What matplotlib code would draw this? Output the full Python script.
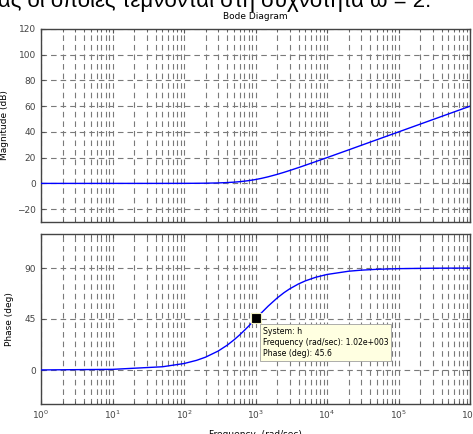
#!/usr/bin/env python3
# Bode diagram of h(s), MATLAB-style figure with a data tip on the phase plot
import numpy as np
import matplotlib
matplotlib.use('Agg')
import matplotlib.pyplot as plt
from matplotlib.ticker import LogLocator, NullFormatter

#--------------------------------------------------
# values
freq  = [1, 10, 50, 100, 150, 200, 300, 400, 500, 600, 700, 800, 900, 1000, 1200, 1500,
         2000, 2500, 3000, 4000, 5000, 7000, 1e4, 2e4, 3e4, 5e4, 1e5, 3e5, 1e6]
magDb = [0.0, 0.0, 0.01, 0.04, 0.10, 0.17, 0.37, 0.65, 0.97, 1.34, 1.73, 2.15, 2.58, 3.01,
         3.87, 5.12, 6.99, 8.60, 10.0, 12.3, 14.15, 17.0, 20.04, 26.02, 29.55, 33.98, 40.0,
         49.54, 60.0]
phDeg = [0.06, 0.57, 2.86, 5.71, 8.53, 11.31, 16.7, 21.8, 26.57, 30.96, 34.99, 38.66, 41.99,
         45.0, 50.19, 56.31, 63.43, 68.2, 71.57, 75.96, 78.69, 81.87, 84.29, 87.14, 88.09,
         88.85, 89.43, 89.81, 89.94]

tipFreq  = 1.02e3
tipPhase = 45.6
tipText  = 'System: h\nFrequency (rad/sec): 1.02e+003\nPhase (deg): 45.6'

magTicks = [-20, 0, 20, 40, 60, 80, 100, 120]
phTicks  = [0, 45, 90]

headText = 'ας οι οποίες τέμνονται στη συχνότητα ω = 2.'

#--------------------------------------------------
W, H = 473, 434
fig = plt.figure(figsize=(W/100, H/100), dpi=100)

gridGray  = '#7a7a7a'
axGray    = '#555555'
lineBlue  = '#0000ff'
dashStyle = (0, (5.0, 3.6))

def fpos(x0, y0, x1, y1):
    # pixel box -> figure fraction
    return [x0/W, 1-y1/H, (x1-x0)/W, (y1-y0)/H]

def style(ax):
    ax.set_xscale('log')
    ax.set_xlim(1, 1e6)
    ax.xaxis.set_major_locator(LogLocator(base=10, numticks=10))
    ax.xaxis.set_minor_locator(LogLocator(base=10, subs=np.arange(2, 10), numticks=20))
    ax.xaxis.set_minor_formatter(NullFormatter())
    ax.grid(True, which='major', axis='both', color=gridGray, linestyle=dashStyle, linewidth=0.8)
    ax.grid(True, which='minor', axis='x', color=gridGray, linestyle=dashStyle, linewidth=0.8)
    ax.tick_params(which='both', direction='in', top=True, right=True, colors=axGray,
                   labelsize=6.5, labelcolor='#444444')
    ax.tick_params(which='major', length=3)
    ax.tick_params(which='minor', length=2)
    for s in ax.spines.values():
        s.set_color('#444444')
        s.set_linewidth(1.0)

ax1 = fig.add_axes(fpos(41, 29, 470, 222))
ax2 = fig.add_axes(fpos(41, 234, 470, 404))

# magnitude
ax1.plot(freq, magDb, color=lineBlue, linewidth=1.0, zorder=3)
style(ax1)
ax1.set_ylim(-30, 120)
ax1.set_yticks(magTicks)
ax1.tick_params(labelbottom=False)
ax1.set_ylabel('Magnitude (dB)', fontsize=6.5, labelpad=6)
ax1.set_title('Bode Diagram', fontsize=6.5, pad=7)

# phase
ax2.plot(freq, phDeg, color=lineBlue, linewidth=1.0, zorder=3)
style(ax2)
ax2.set_ylim(-30, 120)
ax2.set_yticks(phTicks)
ax2.set_ylabel('Phase (deg)', fontsize=6.5, labelpad=8)
ax2.set_xlabel('Frequency  (rad/sec)', fontsize=6.5, labelpad=6)

# data tip
ax2.plot([tipFreq], [tipPhase], marker='s', markersize=6.5, color='black',
         markeredgecolor='#f0f0c0', markeredgewidth=0.8, zorder=5, clip_on=False)
ax2.annotate(tipText, xy=(tipFreq, tipPhase), xytext=(5, -6.3), textcoords='offset points',
             fontsize=5.6, va='top', ha='left', linespacing=1.3, zorder=6,
             bbox=dict(boxstyle='square,pad=0.35', facecolor='#ffffe1', edgecolor='#a0a0a0', linewidth=0.6))

# cropped heading from the page above the figure
fig.text(-2/W, 1-7/H, headText, fontsize=16, ha='left', va='baseline', color='black',
         family='Liberation Sans')

fig.savefig('out.png', dpi=100)
